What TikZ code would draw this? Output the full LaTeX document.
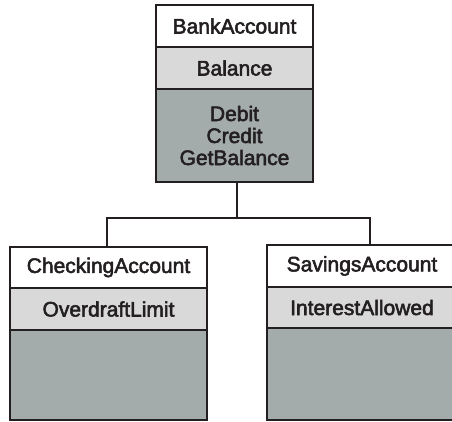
\documentclass[tikz,border=0pt]{standalone}
\usepackage{fontspec}
\setmainfont{Liberation Sans}[FakeBold=2.5]
\definecolor{attrgray}{HTML}{D9D9D9}
\definecolor{opgray}{HTML}{A3ABAB}
\definecolor{inkline}{HTML}{231F20}
\begin{document}
\begin{tikzpicture}[x=1pt,y=-1pt,
  every node/.style={inner sep=0pt,outer sep=0pt},
  cell/.style={draw=inkline,line width=2pt,anchor=north west,
    font=\fontsize{21}{22}\selectfont,text=inkline,align=center},
  namecell/.style={cell,fill=white},
  attrcell/.style={cell,fill=attrgray},
  opcell/.style={cell,fill=opgray},
  link/.style={draw=inkline,line width=2pt}]
\useasboundingbox (0,0) rectangle (452,422);
% base class
\node[namecell,minimum width=157pt,minimum height=42pt] (bankname) at (156,5) {BankAccount};
\node[attrcell,minimum width=157pt,minimum height=42pt] (bankattr) at (156,47) {Balance};
\node[opcell,minimum width=157pt,minimum height=93pt] (bankops) at (156,89) {Debit\\Credit\\GetBalance};
% checking account
\node[namecell,minimum width=197pt,minimum height=41pt] (chkname) at (10,247) {CheckingAccount};
\node[attrcell,minimum width=197pt,minimum height=42pt] (chkattr) at (10,288) {OverdraftLimit};
\node[opcell,minimum width=197pt,minimum height=90pt] (chkops) at (10,330) {};
% savings account
\node[namecell,minimum width=190pt,minimum height=42pt] (savname) at (267,245) {SavingsAccount};
\node[attrcell,minimum width=190pt,minimum height=41pt] (savattr) at (267,287) {InterestAllowed};
\node[opcell,minimum width=190pt,minimum height=92pt] (savops) at (267,328) {};
% inheritance connectors
\coordinate (fork) at (237,218);
\draw[link] (bankops.south -| fork) -- (fork);
\draw[link] (chkname.north -| 107,0) |- (fork) -| (savname.north -| 370,0);
\end{tikzpicture}
\end{document}
